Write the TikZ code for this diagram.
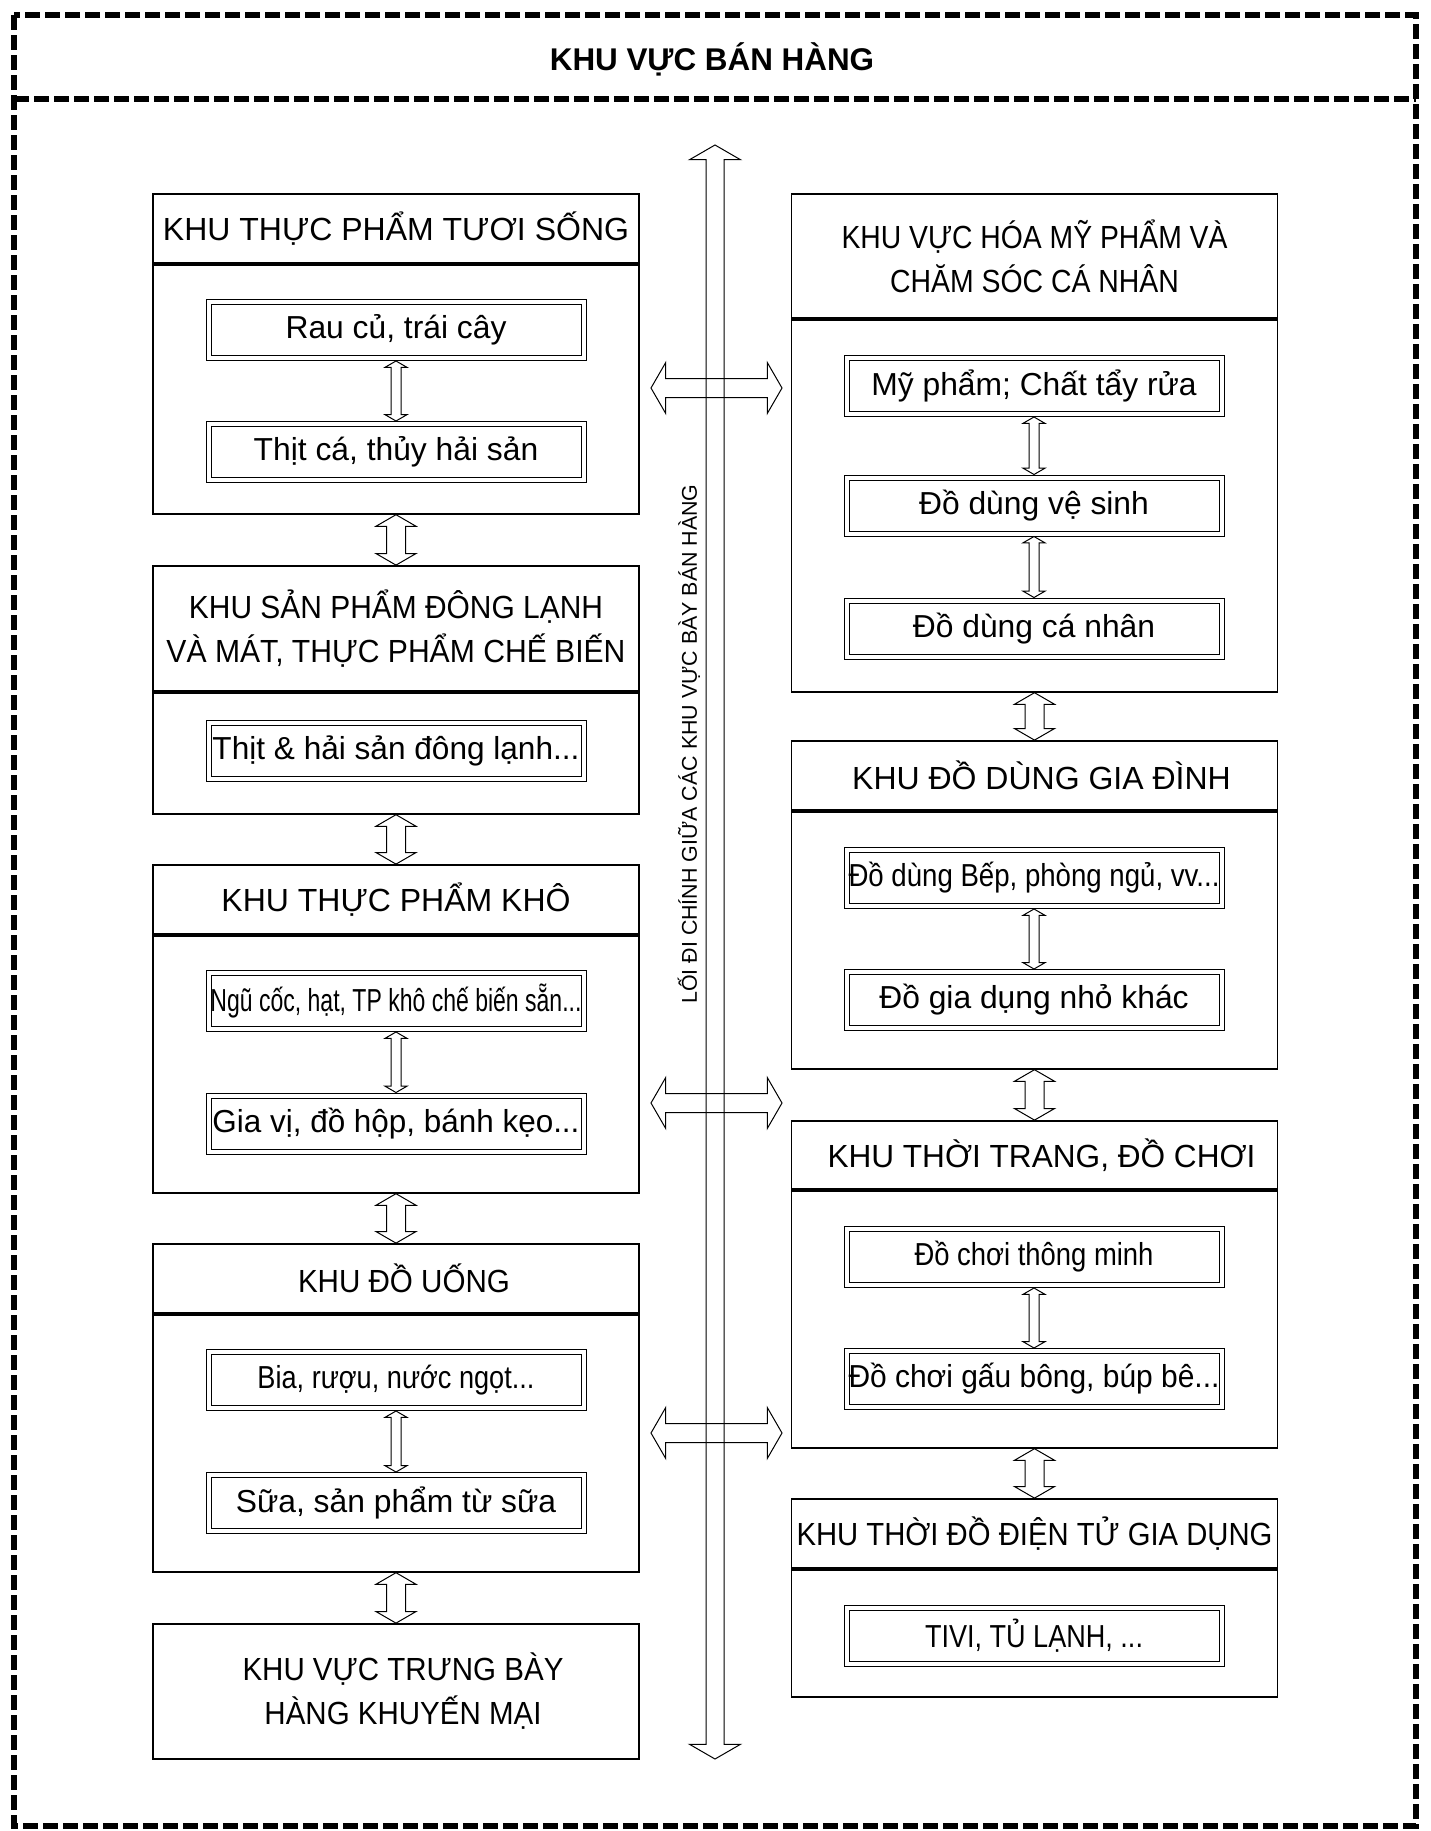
\documentclass[tikz,border=0pt]{standalone}
\usepackage{fontspec}
\setmainfont{Liberation Sans}
\usepackage{graphicx}
\usetikzlibrary{positioning,calc,shapes.arrows}

\newcommand{\squeeze}[2]{\resizebox{#1}{\height}{#2}}
\newcommand{\blockarrow}[3]{\path let \p1=#2, \p2=#3, \n1={veclen(\x2-\x1,\y2-\y1)} in ($#2!0.5!#3$) node[#1, minimum height=\n1] {};}

\begin{document}
\begin{tikzpicture}[x=0.5pt, y=-0.5pt]
		\tikzset{border/.style={line width=3pt, dash pattern=on 7.5pt off 2.5pt}};
		\tikzset{zonehead/.style={draw, line width=0.9pt, minimum width=243pt, inner sep=0pt, align=center, font=\fontsize{16pt}{22pt}\selectfont}};
		\tikzset{zonebody/.style={draw, line width=0.9pt, minimum width=243pt, inner sep=0pt}};
		\tikzset{item/.style={draw, double, double distance=2pt, line width=0.5pt, minimum width=187.5pt, minimum height=28pt, inner sep=0pt, outer sep=1.5pt, font=\fontsize{15.9pt}{18pt}\selectfont}};
		\tikzset{darr/.style={draw, line width=0.5pt, shape=double arrow, inner xsep=0pt, minimum width=0pt, double arrow tip angle=120, double arrow head indent=0pt}};
		\tikzset{aislearr/.style={darr, inner ysep=4.25pt, double arrow head extend=8.25pt, rotate=90}};
		\tikzset{crossarr/.style={darr, inner ysep=4.5pt, double arrow head extend=8pt}};
		\tikzset{zonearr/.style={darr, inner ysep=4.5pt, double arrow head extend=5.25pt, rotate=90}};
		\tikzset{itemarr/.style={darr, inner ysep=2.25pt, double arrow head extend=3pt, rotate=90}};

		\useasboundingbox (0,0) rectangle (1430,1831);
		\draw[border] (14,15) rectangle (1416,1826);
		\draw[border] (14,99) -- (1416,99);
		\node[font=\bfseries\fontsize{15.7pt}{18pt}\selectfont] (title) at (712,59) {KHU VỰC BÁN HÀNG};

		\node[zonehead, minimum height=34.5pt] (fresh) at (396,228.5) {KHU THỰC PHẨM TƯƠI SỐNG};
		\node[zonebody, minimum height=124.5pt, below=0pt of fresh] (freshB) {};
		\node[zonehead, minimum height=62.5pt] (frozen) at (396,628.5) {\squeeze{207pt}{KHU SẢN PHẨM ĐÔNG LẠNH}\\\squeeze{229.5pt}{VÀ MÁT, THỰC PHẨM CHẾ BIẾN}};
		\node[zonebody, minimum height=60.5pt, below=0pt of frozen] (frozenB) {};
		\node[zonehead, minimum height=34.5pt] (dry) at (396,899.5) {KHU THỰC PHẨM KHÔ};
		\node[zonebody, minimum height=128.5pt, below=0pt of dry] (dryB) {};
		\node[zonehead, minimum height=34.5pt] (drink) at (396,1278.5) {\hspace*{8pt}\squeeze{106pt}{KHU ĐỒ UỐNG}};
		\node[zonebody, minimum height=128.5pt, below=0pt of drink] (drinkB) {};
		\node[zonehead, minimum height=67.5pt] (promo) at (396,1691.5) {\hspace*{7pt}\squeeze{160.5pt}{KHU VỰC TRƯNG BÀY}\\\hspace*{7pt}\squeeze{138.5pt}{HÀNG KHUYẾN MẠI}};

		\node[zonehead, minimum height=62pt] (cosm) at (1034.5,256) {\squeeze{193pt}{KHU VỰC HÓA MỸ PHẨM VÀ}\\\squeeze{144.5pt}{CHĂM SÓC CÁ NHÂN}};
		\node[zonebody, minimum height=186pt, below=0pt of cosm] (cosmB) {};
		\node[zonehead, minimum height=34.5pt] (house) at (1034.5,775.5) {\hspace*{7pt}KHU ĐỒ DÙNG GIA ĐÌNH};
		\node[zonebody, minimum height=128.5pt, below=0pt of house] (houseB) {};
		\node[zonehead, minimum height=34pt] (fashion) at (1034.5,1155) {\hspace*{7pt}\squeeze{214pt}{KHU THỜI TRANG, ĐỒ CHƠI}};
		\node[zonebody, minimum height=128.5pt, below=0pt of fashion] (fashionB) {};
		\node[zonehead, minimum height=34.5pt] (elec) at (1034.5,1533.5) {\squeeze{238pt}{KHU THỜI ĐỒ ĐIỆN TỬ GIA DỤNG}};
		\node[zonebody, minimum height=63.5pt, below=0pt of elec] (elecB) {};

		\node[item] (veg) at (396,330) {Rau củ, trái cây};
		\node[item] (meat) at (396,452) {Thịt cá, thủy hải sản};
		\node[item] (frozenit) at (396,751) {\squeeze{183.5pt}{Thịt \& hải sản đông lạnh...}};
		\node[item] (grain) at (396,1001) {\squeeze{185.5pt}{Ngũ cốc, hạt, TP khô chế biến sẵn...}};
		\node[item] (spice) at (396,1123.5) {\squeeze{183.5pt}{Gia vị, đồ hộp, bánh kẹo...}};
		\node[item] (beer) at (396,1380) {\squeeze{138.5pt}{Bia, rượu, nước ngọt...}};
		\node[item] (milk) at (396,1503) {Sữa, sản phẩm từ sữa};

		\node[item] (cosmit) at (1034,386) {Mỹ phẩm; Chất tẩy rửa};
		\node[item] (hyg) at (1034,505.5) {Đồ dùng vệ sinh};
		\node[item] (pers) at (1034,628.5) {Đồ dùng cá nhân};
		\node[item] (kitchen) at (1034,878) {\squeeze{185.5pt}{Đồ dùng Bếp, phòng ngủ, vv...}};
		\node[item] (small) at (1034,1000) {Đồ gia dụng nhỏ khác};
		\node[item] (smart) at (1034,1257) {\squeeze{119.5pt}{Đồ chơi thông minh}};
		\node[item] (doll) at (1034,1379) {\squeeze{185.5pt}{Đồ chơi gấu bông, búp bê...}};
		\node[item] (tv) at (1034,1636) {\squeeze{109pt}{TIVI, TỦ LẠNH, ...}};

		\coordinate (aisleT) at (715,145);
		\coordinate (aisleB) at (715,1759);
		\coordinate (c1l) at (651,388);
		\coordinate (c1r) at (782,388);
		\coordinate (c2l) at (651,1103);
		\coordinate (c2r) at (782,1103);
		\coordinate (c3l) at (651,1433);
		\coordinate (c3r) at (782,1433);

		\blockarrow{aislearr}{(aisleT)}{(aisleB)}
		\blockarrow{crossarr}{(c1l)}{(c1r)}
		\blockarrow{crossarr}{(c2l)}{(c2r)}
		\blockarrow{crossarr}{(c3l)}{(c3r)}
		\node[rotate=90, font=\fontsize{10.7pt}{13pt}\selectfont] (aisle) at (689,744) {LỐI ĐI CHÍNH GIỮA CÁC KHU VỰC BÀY BÁN HÀNG};

		\blockarrow{zonearr}{(freshB.south)}{(frozen.north)}
		\blockarrow{zonearr}{(frozenB.south)}{(dry.north)}
		\blockarrow{zonearr}{(dryB.south)}{(drink.north)}
		\blockarrow{zonearr}{(drinkB.south)}{(promo.north)}
		\blockarrow{zonearr}{(cosmB.south)}{(house.north)}
		\blockarrow{zonearr}{(houseB.south)}{(fashion.north)}
		\blockarrow{zonearr}{(fashionB.south)}{(elec.north)}

		\blockarrow{itemarr}{(veg.south)}{(meat.north)}
		\blockarrow{itemarr}{(grain.south)}{(spice.north)}
		\blockarrow{itemarr}{(beer.south)}{(milk.north)}
		\blockarrow{itemarr}{(cosmit.south)}{(hyg.north)}
		\blockarrow{itemarr}{(hyg.south)}{(pers.north)}
		\blockarrow{itemarr}{(kitchen.south)}{(small.north)}
		\blockarrow{itemarr}{(smart.south)}{(doll.north)}

	\end{tikzpicture}
\end{document}
